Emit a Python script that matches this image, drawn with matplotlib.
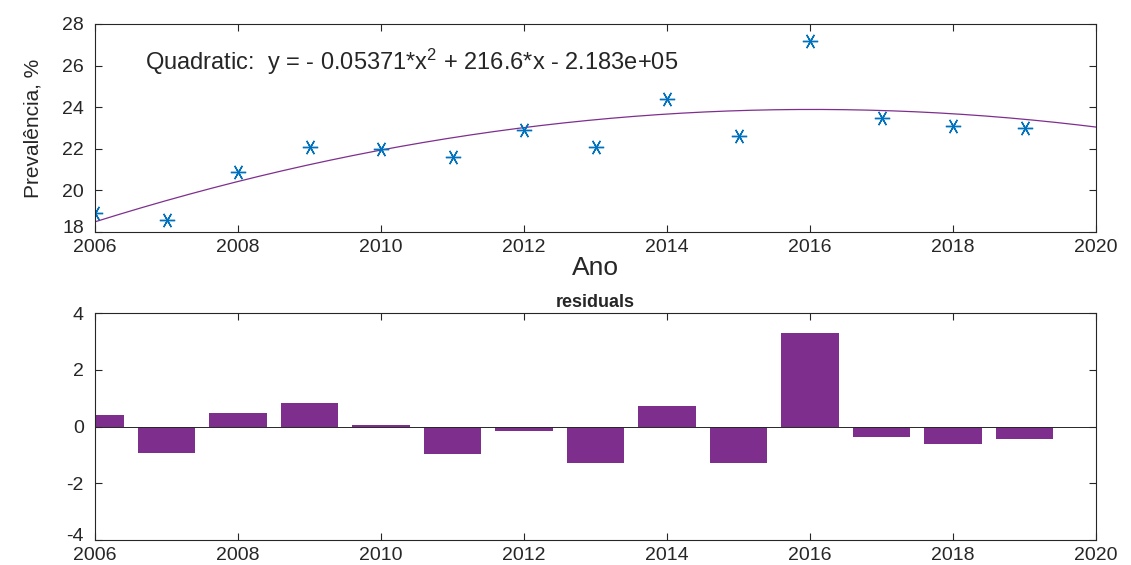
import numpy as np
import matplotlib
matplotlib.use('Agg')
import matplotlib.pyplot as plt
from matplotlib.transforms import ScaledTranslation

plt.rcParams['font.family'] = ['Liberation Sans', 'DejaVu Sans']
plt.rcParams['mathtext.default'] = 'regular'
plt.rcParams['axes.unicode_minus'] = False

# data
anos = [2006, 2007, 2008, 2009, 2010, 2011, 2012, 2013, 2014, 2015, 2016, 2017, 2018, 2019]
prevalencia = [18.9, 18.6, 20.9, 22.1, 22.0, 21.6, 22.9, 22.1, 24.4, 22.6, 27.2, 23.5, 23.1, 23.0]
residuos = [0.41, -0.93, 0.46, 0.84, 0.05, -0.97, -0.16, -1.30, 0.72, -1.27, 3.28, -0.37, -0.62, -0.43]
eq_text = 'Quadratic:  y = - 0.05371*x$^2$ + 216.6*x - 2.183e+05'

blue = '#0072BD'
purple = '#7E2F8E'
dark = '#262626'

# quadratic fit (centered for numerical stability)
x = np.array(anos, dtype=float)
p = np.polyfit(x - 2013, prevalencia, 2)
xf = np.linspace(2006, 2020, 300)
yf = np.polyval(p, xf - 2013)

fig = plt.figure(figsize=(11.31, 5.65), dpi=100)
ax1 = fig.add_axes([95/1131, 1-232/565, 1001/1131, 208/565])
ax2 = fig.add_axes([95/1131, 1-540/565, 1001/1131, 227/565])

ax1.plot(xf, yf, color=purple, lw=0.9)
ax1.plot(anos, prevalencia, ls='none', marker=(6, 2, 30), color=blue, ms=11, mew=1.0)
ax1.set_xlim(2006, 2020)
ax1.set_ylim(18, 28)
ax1.set_xticks(range(2006, 2021, 2))
ax1.set_yticks(range(18, 29, 2))
ax1.set_ylabel('Prevalência, %', fontsize=15, color=dark, labelpad=14)
ax1.set_xlabel('Ano', fontsize=19, color=dark, labelpad=0)
ax1.text(2006.7, 26.2, eq_text, fontsize=17, color=dark, va='center')

ax2.bar(anos, residuos, width=0.8, color=purple)
ax2.axhline(0, color=dark, lw=0.7)
ax2.set_xlim(2006, 2020)
ax2.set_ylim(-4, 4)
ax2.set_xticks(range(2006, 2021, 2))
ax2.set_yticks(range(-4, 5, 2))
ax2.set_title('residuals', fontsize=13, fontweight='bold', color=dark, pad=4)

for ax in (ax1, ax2):
    ax.tick_params(direction='in', top=True, right=True, labelsize=14,
                   colors=dark, length=5, width=0.8)
    ax.tick_params(axis='x', pad=5)
    ax.tick_params(axis='y', pad=8)
    for s in ax.spines.values():
        s.set_color(dark)
        s.set_linewidth(0.8)
    # lift the lowest y label a little so it clears the first year label
    lab = ax.get_yticklabels()[0]
    lab.set_transform(lab.get_transform() + ScaledTranslation(0, 4/72, fig.dpi_scale_trans))

fig.savefig('out.png', dpi=100)
